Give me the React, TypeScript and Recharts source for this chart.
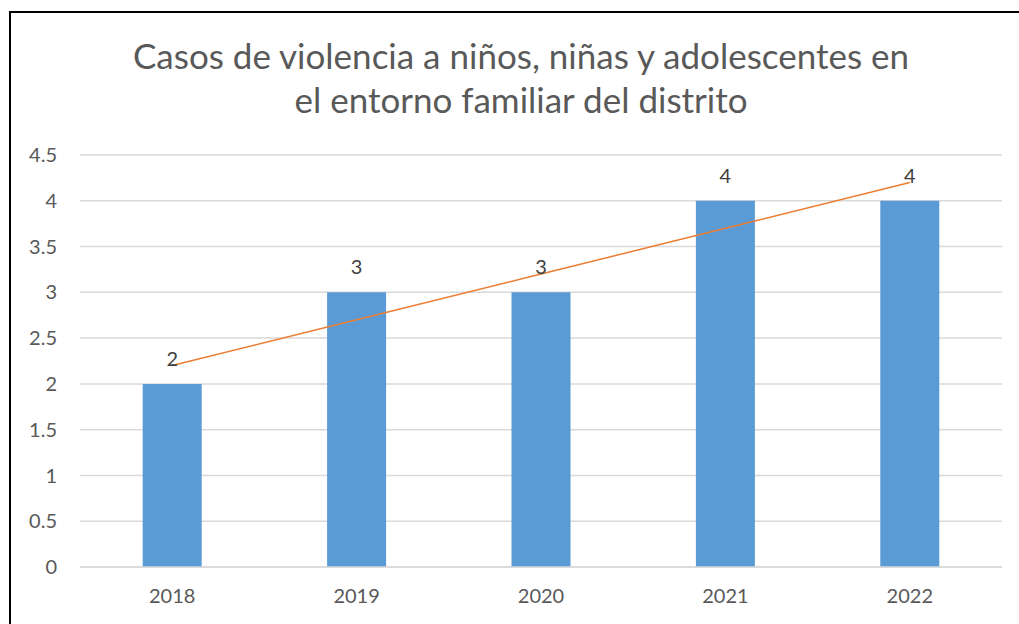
import { ComposedChart, CartesianGrid, XAxis, YAxis, Bar, Line, LabelList } from "recharts";

const years = ["2018", "2019", "2020", "2021", "2022"];
const casos = [2, 3, 3, 4, 4];
// linear trend line
const tendencia = [2.2, 2.7, 3.2, 3.7, 4.2];
const yTicks = [0, 0.5, 1, 1.5, 2, 2.5, 3, 3.5, 4, 4.5];

const data = years.map((year, i) => ({ year, casos: casos[i], tendencia: tendencia[i] }));

const font = "Lato, 'Open Sans', sans-serif";
const textColor = "#595959";

export default function App() {
  return (
    <div style={{ position: "fixed", left: 0, top: 0, width: 1019, height: 624, background: "#fff", fontFamily: font }}>
      <div
        style={{
          position: "absolute",
          left: 9,
          top: 11,
          width: 1040,
          height: 700,
          border: "2px solid #000",
        }}
      />
      <div
        style={{
          position: "absolute",
          left: 9,
          top: 33,
          width: 1024,
          textAlign: "center",
          fontSize: 35,
          lineHeight: "44px",
          color: textColor,
        }}
      >
        Casos de violencia a niños, niñas y adolescentes en
        <br />
        el entorno familiar del distrito
      </div>
      <div style={{ position: "absolute", left: 0, top: 0 }}>
        <ComposedChart
          width={1019}
          height={624}
          data={data}
          barCategoryGap="34%"
          margin={{ top: 155, right: 17, bottom: 17, left: 20 }}
        >
          <CartesianGrid vertical={false} stroke="#D9D9D9" strokeWidth={1.5} />
          <XAxis
            dataKey="year"
            height={40}
            axisLine={{ stroke: "#D9D9D9", strokeWidth: 1.5 }}
            tickLine={false}
            tickMargin={16}
            tick={{ fill: textColor, fontSize: 20, fontFamily: font }}
          />
          <YAxis
            width={60}
            domain={[0, 4.5]}
            ticks={yTicks}
            axisLine={false}
            tickLine={false}
            tickSize={0}
            tickMargin={23}
            tick={{ fill: textColor, fontSize: 20, fontFamily: font }}
          />
          <Bar dataKey="casos" fill="#5B9BD5" isAnimationActive={false}>
            <LabelList
              dataKey="casos"
              position="top"
              offset={18}
              fill="#404040"
              fontSize={20}
              fontFamily={font}
            />
          </Bar>
          <Line
            dataKey="tendencia"
            type="linear"
            stroke="#ED7D31"
            strokeWidth={1.5}
            dot={false}
            isAnimationActive={false}
          />
        </ComposedChart>
      </div>
    </div>
  );
}
